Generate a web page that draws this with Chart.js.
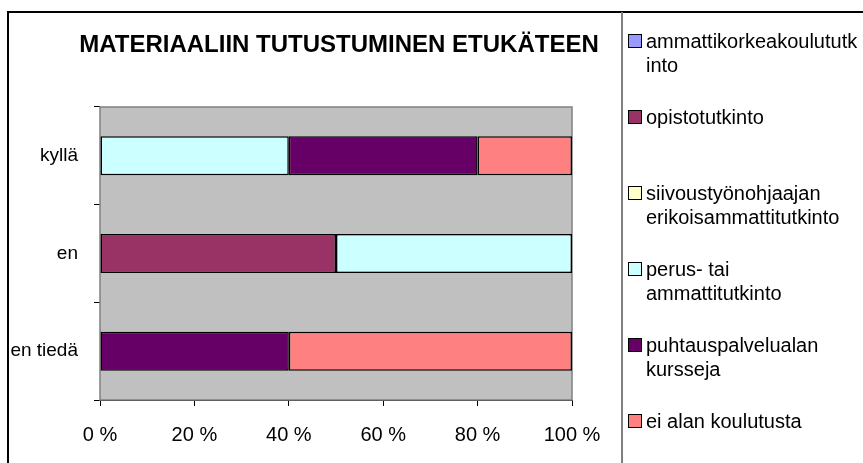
<!DOCTYPE html>
<html>
<head>
<meta charset="UTF-8">
<title>Materiaaliin tutustuminen etukäteen</title>
<script src="https://cdn.jsdelivr.net/npm/chart.js@4.4.1/dist/chart.umd.min.js"></script>
<style>
    body { margin: 0; background: #fff; font-family: "Liberation Sans", Arial, sans-serif; }
    #wrap { position: relative; width: 863px; height: 463px; overflow: hidden; }
    #frame { position: absolute; left: 7px; top: 11px; width: 900px; height: 500px; border: 2px solid #000; box-sizing: border-box; }
    #divider { position: absolute; left: 621px; top: 12px; width: 2px; height: 460px; background: #808080; }
    #chart { position: absolute; left: 0; top: 0; }
    #legend { position: absolute; left: 628px; top: 0; width: 235px; height: 463px; }
    .item { position: absolute; left: 0; font-size: 20px; line-height: 24px; color: #000; }
    .item .box { position: absolute; left: 0; top: 5px; width: 12px; height: 12px; border: 1px solid #000; }
    .item .txt { margin-left: 18px; white-space: nowrap; }
</style>
</head>
<body>
<div id="wrap">
    <div id="frame"></div>
    <div id="divider"></div>
    <canvas id="chart" width="863" height="463"></canvas>
    <div id="legend"></div>
</div>

<script>
    var title = 'MATERIAALIIN TUTUSTUMINEN ETUKÄTEEN';
    var categories = ['kyllä', 'en', 'en tiedä'];

    // series names, split where the legend wraps them
    var seriesNames = [
        ['ammattikorkeakoulututk', 'into'],
        ['opistotutkinto'],
        ['siivoustyönohjaajan', 'erikoisammattitutkinto'],
        ['perus- tai', 'ammattitutkinto'],
        ['puhtauspalvelualan', 'kursseja'],
        ['ei alan koulutusta']
    ];
    var seriesColors = ['#9999FF', '#993366', '#FFFFCC', '#CCFFFF', '#660066', '#FF8080'];

    // percent of answers per category (kyllä, en, en tiedä)
    var ammattikorkeakoulu = [0, 0, 0];
    var opisto = [0, 50, 0];
    var siivous = [0, 0, 0];
    var perus = [40, 50, 0];
    var puhtaus = [40, 0, 40];
    var eiAlan = [20, 0, 60];

    var xTicks = [0, 20, 40, 60, 80, 100];

    var seriesValues = [ammattikorkeakoulu, opisto, siivous, perus, puhtaus, eiAlan];

    var plotBg = {
        id: 'plotBg',
        beforeDatasetsDraw: function(chart) {
            var a = chart.chartArea, c = chart.ctx;
            c.save();
            c.fillStyle = '#C0C0C0';
            c.fillRect(a.left, a.top, a.right - a.left, a.bottom - a.top);
            c.strokeStyle = '#808080';
            c.lineWidth = 1.5;
            c.strokeRect(a.left, a.top, a.right - a.left, a.bottom - a.top);
            c.restore();
        }
    };

    // title sits left of the legend panel, not over the plot only
    var chartTitle = {
        id: 'chartTitle',
        afterDraw: function(chart) {
            var c = chart.ctx;
            c.save();
            c.font = 'bold 24px "Liberation Sans", Arial, sans-serif';
            c.fillStyle = '#000';
            c.textAlign = 'center';
            c.textBaseline = 'middle';
            c.fillText(title, 339, 45, 520);
            c.restore();
        }
    };

    var datasets = seriesValues.map(function(vals, i) {
        return {
            label: seriesNames[i].join(''),
            data: vals,
            backgroundColor: seriesColors[i],
            borderColor: '#000',
            borderWidth: function(ctx) { return ctx.raw ? 1.5 : 0; },
            borderSkipped: false,
            barPercentage: 0.4,
            categoryPercentage: 1
        };
    });

    Chart.defaults.font.family = '"Liberation Sans", Arial, sans-serif';
    Chart.defaults.color = '#000';

    new Chart(document.getElementById('chart').getContext('2d'), {
        type: 'bar',
        data: { labels: categories, datasets: datasets },
        plugins: [plotBg, chartTitle],
        options: {
            indexAxis: 'y',
            responsive: false,
            animation: false,
            layout: { padding: { left: 8, right: 291, top: 107, bottom: 0 } },
            plugins: {
                legend: { display: false },
                tooltip: { enabled: false },
                title: { display: false }
            },
            scales: {
                x: {
                    stacked: true,
                    min: 0,
                    max: 100,
                    afterBuildTicks: function(s) { s.ticks = xTicks.map(function(v) { return { value: v }; }); },
                    afterFit: function(s) { s.height = 63; },
                    ticks: {
                        font: { size: 20 },
                        padding: 17,
                        callback: function(v) { return v + ' %'; }
                    },
                    grid: { drawOnChartArea: false, tickLength: 6, color: '#000', tickWidth: 1 },
                    border: { color: '#000', width: 1 }
                },
                y: {
                    stacked: true,
                    afterFit: function(s) { s.width = 92; },
                    ticks: { font: { size: 19 }, padding: 16 },
                    grid: { drawOnChartArea: false, tickLength: 6, color: '#000', offset: true },
                    border: { color: '#333', width: 1 }
                }
            }
        }
    });

    // legend entries sit at an even spacing down the right-hand panel
    var legend = document.getElementById('legend');
    seriesNames.forEach(function(lines, i) {
        var item = document.createElement('div');
        item.className = 'item';
        item.style.top = (29 + 76 * i) + 'px';
        var box = document.createElement('div');
        box.className = 'box';
        box.style.background = seriesColors[i];
        var txt = document.createElement('div');
        txt.className = 'txt';
        txt.innerHTML = lines.join('<br>');
        item.appendChild(box);
        item.appendChild(txt);
        legend.appendChild(item);
    });
</script>
</body>
</html>
